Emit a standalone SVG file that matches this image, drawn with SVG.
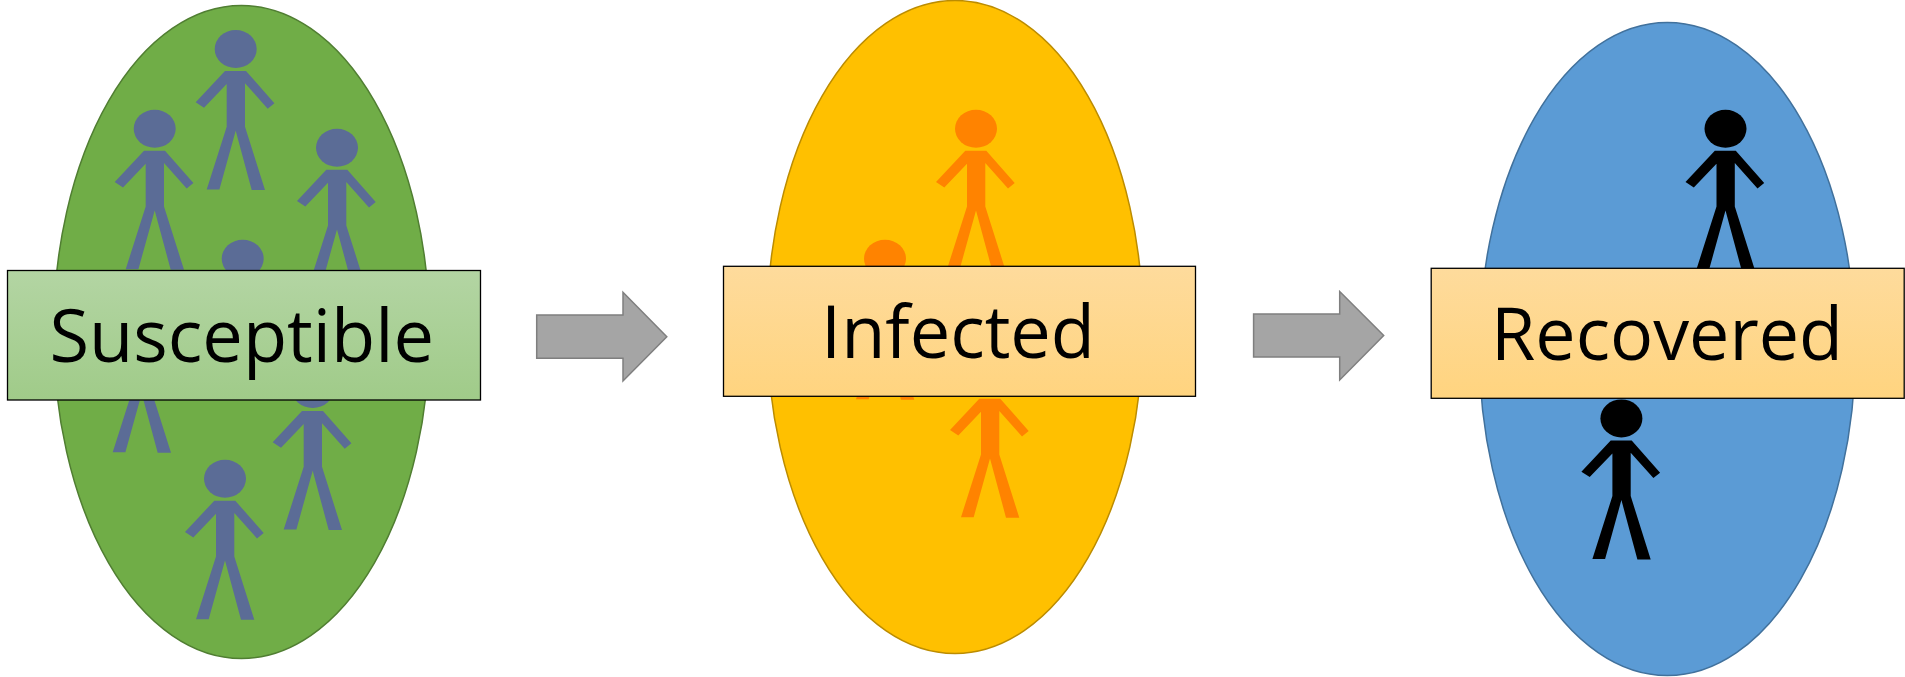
<svg xmlns="http://www.w3.org/2000/svg" width="1905" height="677" viewBox="0 0 1905 677">
<style>
.lbl{font-family:"Open Sans","Noto Sans","Liberation Sans",sans-serif;font-size:73px;fill:#000;font-variant-ligatures:none}
.box{stroke:#000;stroke-width:1.3}
.arrow{fill:#A5A5A5;stroke:#7F7F7F;stroke-width:1.5}
.blob{stroke-width:1.5}
</style>
<defs>
<linearGradient id="gG" x1="0" y1="0" x2="0" y2="1"><stop offset="0" stop-color="#B3D5A3"/><stop offset="1" stop-color="#A0CB89"/></linearGradient>
<linearGradient id="gO" x1="0" y1="0" x2="0" y2="1"><stop offset="0" stop-color="#FEDB9C"/><stop offset="1" stop-color="#FFD47F"/></linearGradient>
<g id="person">
<ellipse cx="0" cy="0" rx="21" ry="19"/>
<polygon points="-10.7,22 -40,53.3 -31.7,58.7 -9,35 -9,77.7 -29,140.5 -16.3,140.5 0,81.7 16,141 29.3,141 9.3,77.7 9.3,34.3 32,59.7 38.7,54.3 10.3,22"/>
</g>
</defs>
<rect width="1905" height="677" fill="#fff"/>
<g id="connectors">
<polygon class="arrow" points="536.7,315 623,315 623,292.3 666.8,336.7 623,381 623,358.3 536.7,358.3"/>
<polygon class="arrow" points="1253.6,314 1339.7,314 1339.7,291.5 1383.7,335.5 1339.7,380 1339.7,357 1253.6,357"/>
</g>
<g id="susceptible">
<ellipse class="blob" cx="241.5" cy="332" rx="188" ry="326.5" fill="#70AD47" stroke="#507E32"/>
<g fill="#5B6C96">
<use href="#person" x="235.7" y="49"/>
<use href="#person" x="154.7" y="128.7"/>
<use href="#person" x="337" y="147.7"/>
<use href="#person" x="242.7" y="258.7"/>
<use href="#person" x="141.7" y="311.8"/>
<use href="#person" x="312.7" y="389"/>
<use href="#person" x="225" y="478.7"/>
</g>
<rect class="box" x="7.5" y="270.5" width="473" height="129.5" fill="url(#gG)"/>
<text class="lbl" x="49.5" y="362" textLength="384.5" lengthAdjust="spacingAndGlyphs">Susceptible</text>
</g>
<g id="infected">
<ellipse class="blob" cx="955" cy="327" rx="188" ry="326.5" fill="#FFC000" stroke="#BC8C00"/>
<g fill="#FF8300">
<use href="#person" x="976" y="128.7"/>
<use href="#person" x="885" y="258.7"/>
<use href="#person" x="990" y="376.7"/>
</g>
<rect class="box" x="723.5" y="266.3" width="472" height="130" fill="url(#gO)"/>
<text class="lbl" x="821" y="358" textLength="274" lengthAdjust="spacingAndGlyphs">Infected</text>
</g>
<g id="recovered">
<ellipse class="blob" cx="1667.3" cy="349" rx="188" ry="326.5" fill="#5B9BD5" stroke="#41719C"/>
<g fill="#000">
<use href="#person" x="1725.5" y="128.7"/>
<use href="#person" x="1621.4" y="418.4"/>
</g>
<rect class="box" x="1431.2" y="268.3" width="473" height="130" fill="url(#gO)"/>
<text class="lbl" x="1491" y="360" textLength="352" lengthAdjust="spacingAndGlyphs">Recovered</text>
</g>
</svg>
